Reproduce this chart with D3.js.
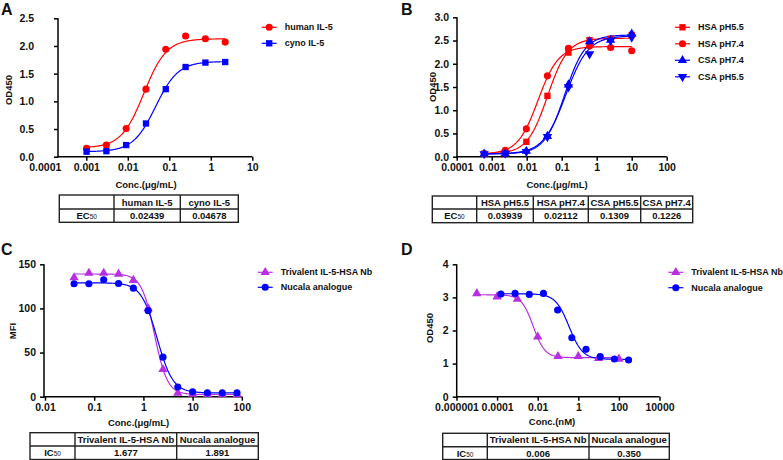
<!DOCTYPE html>
<html><head><meta charset="utf-8">
<script src="https://cdn.jsdelivr.net/npm/d3@7"></script>
<style>
body{margin:0;background:#fff}
svg{display:block}
text{font-family:"Liberation Sans",Arial,sans-serif;font-weight:bold;fill:#111}
</style>
</head><body>
<svg id="c" width="783" height="460"></svg>
<script>
// ---------------- DATA ----------------
// Panel A
const concA = [0.001016, 0.003048, 0.009145, 0.02743, 0.0823, 0.2469, 0.7407, 2.222];
const humanIL5 = [0.15, 0.21, 0.51, 1.22, 1.94, 2.18, 2.13, 2.07];
const cynoIL5 = [0.09, 0.10, 0.21, 0.60, 1.22, 1.62, 1.70, 1.71];
const fitHumanIL5 = [0.16, 2.13, 0.02439, 1.6];   // bottom, top, EC50, hill
const fitCynoIL5 = [0.09, 1.72, 0.04678, 1.6];
const xTicksA = [0.0001, 0.001, 0.01, 0.1, 1, 10];
const xTickLabelsA = ["0.0001", "0.001", "0.01", "0.1", "1", "10"];
const yTicksA = [0, 0.5, 1.0, 1.5, 2.0, 2.5];
const yTickLabelsA = ["0.0", "0.5", "1.0", "1.5", "2.0", "2.5"];
const tableHeadA = ["human IL-5", "cyno IL-5"];
const tableValA = ["0.02439", "0.04678"];

// Panel B
const concB = [0.00061, 0.00244, 0.00977, 0.0391, 0.156, 0.625, 2.5, 10];
const hsaPH55 = [0.06, 0.08, 0.32, 1.31, 2.24, 2.51, 2.54, 2.62];
const hsaPH74 = [0.07, 0.14, 0.60, 1.74, 2.33, 2.38, 2.35, 2.28];
const csaPH74 = [0.06, 0.07, 0.12, 0.44, 1.55, 2.48, 2.51, 2.64];
const csaPH55 = [0.06, 0.07, 0.11, 0.43, 1.50, 2.21, 2.50, 2.57];
const fitHsaPH55 = [0.06, 2.55, 0.03939, 1.5];
const fitHsaPH74 = [0.06, 2.37, 0.02112, 1.5];
const fitCsaPH74 = [0.06, 2.62, 0.1226, 1.5];
const fitCsaPH55 = [0.06, 2.60, 0.1309, 1.35];
const xTicksB = [0.0001, 0.001, 0.01, 0.1, 1, 10, 100];
const xTickLabelsB = ["0.0001", "0.001", "0.01", "0.1", "1", "10", "100"];
const yTicksB = [0, 0.5, 1.0, 1.5, 2.0, 2.5, 3.0];
const yTickLabelsB = ["0.0", "0.5", "1.0", "1.5", "2.0", "2.5", "3.0"];
const tableHeadB = ["HSA pH5.5", "HSA pH7.4", "CSA pH5.5", "CSA pH7.4"];
const tableValB = ["0.03939", "0.02112", "0.1309", "0.1226"];

// Panel C
const concC = [0.039, 0.078, 0.156, 0.3125, 0.625, 1.25, 2.5, 5, 10, 20, 40, 80];
const trivalentC = [135, 140, 140, 139, 132, 100, 31, 4, 3, 2.7, 2.5, 2.5];
const nucalaC = [128, 128, 132.5, 128.3, 123, 97.5, 44.8, 11, 5.6, 4.5, 4.3, 4.3];
const fitTrivalentC = [2.5, 139, 1.677, -3.3];
const fitNucalaC = [4.3, 129, 1.891, -2.7];
const xTicksC = [0.01, 0.1, 1, 10, 100];
const xTickLabelsC = ["0.01", "0.1", "1", "10", "100"];
const yTicksC = [0, 50, 100, 150];
const yTickLabelsC = ["0", "50", "100", "150"];
const tableHeadCD = ["Trivalent IL-5-HSA Nb", "Nucala analogue"];
const tableValC = ["1.677", "1.891"];

// Panel D
const concDTri = [0.00001, 0.0001, 0.001, 0.01, 0.1, 1, 10, 100];
const trivalentD = [3.12, 3.02, 2.95, 1.81, 1.22, 1.22, 1.16, 1.14];
const concDNuc = [0.000154, 0.000768, 0.00384, 0.0192, 0.096, 0.48, 2.4, 12, 60, 300];
const nucalaD = [3.10, 3.12, 3.09, 3.12, 2.62, 1.78, 1.43, 1.21, 1.14, 1.11];
const fitTrivalentD = [1.18, 3.08, 0.006, -1.5];
const fitNucalaD = [1.13, 3.11, 0.350, -1.3];
const xTicksD = [0.000001, 0.0001, 0.01, 1, 100, 10000];
const xTickLabelsD = ["0.000001", "0.0001", "0.01", "1", "100", "10000"];
const yTicksD = [0, 1, 2, 3, 4];
const yTickLabelsD = ["0", "1", "2", "3", "4"];
const tableValD = ["0.006", "0.350"];

// ---------------- DRAWING ----------------
const svg = d3.select("#c");
const RED = "#ff0000", BLUE = "#0000ff", PURPLE = "#b82ee2";

function fourPL(p, x) {
  const [bottom, top, mid, h] = p;
  return bottom + (top - bottom) / (1 + Math.pow(mid / x, h));
}

function symbolPath(type) {
  if (type === "circle") return d3.symbol(d3.symbolCircle, 40)();
  if (type === "square") return d3.symbol(d3.symbolSquare, 40)();
  return d3.symbol(d3.symbolTriangle, 38)();
}
function drawSymbol(g, type, cx, cy, color) {
  g.append("path").attr("d", symbolPath(type))
    .attr("transform", `translate(${cx},${cy})${type === "down" ? " rotate(180)" : ""}`)
    .attr("fill", color);
}

function panel(o) {
  const g = svg.append("g");
  const x = d3.scaleLog().domain(o.xDomain).range(o.xRange);
  const y = d3.scaleLinear().domain(o.yDomain).range(o.yRange);
  const y0 = o.yRange[0];

  g.append("line").attr("x1", o.axisX).attr("x2", o.axisX)
    .attr("y1", o.yRange[1]).attr("y2", y0 + 0.75)
    .attr("stroke", "#000").attr("stroke-width", 1.5);
  g.append("line").attr("x1", o.axisX - 0.75).attr("x2", o.xRange[1])
    .attr("y1", y0).attr("y2", y0).attr("stroke", "#000").attr("stroke-width", 1.5);

  const xa = d3.axisBottom(x).tickValues(o.xTicks)
    .tickFormat((d, i) => o.xTickLabels[i]).tickSize(4).tickPadding(3).tickSizeOuter(0);
  const xg = g.append("g").attr("transform", `translate(0,${y0})`).call(xa);
  xg.select(".domain").remove();
  xg.selectAll(".tick line").attr("stroke", "#000").attr("stroke-width", 1.5)
    .attr("display", d => x(d) < o.axisX - 1 ? "none" : null);
  xg.selectAll(".tick text").attr("font-size", o.tickFont).attr("fill", "#111")
    .attr("font-family", "Liberation Sans, Arial, sans-serif").attr("font-weight", "bold");

  const ya = d3.axisLeft(y).tickValues(o.yTicks)
    .tickFormat((d, i) => o.yTickLabels[i]).tickSize(4).tickPadding(o.yPad).tickSizeOuter(0);
  const yg = g.append("g").attr("transform", `translate(${o.axisX},0)`).call(ya);
  yg.select(".domain").remove();
  yg.selectAll(".tick line").attr("stroke", "#000").attr("stroke-width", 1.5);
  yg.selectAll(".tick text").attr("font-size", o.tickFont).attr("fill", "#111")
    .attr("font-family", "Liberation Sans, Arial, sans-serif").attr("font-weight", "bold");

  g.append("text").attr("x", o.xTitlePos[0]).attr("y", o.xTitlePos[1])
    .attr("text-anchor", "middle").attr("font-size", 9.5).text(o.xTitle);
  g.append("text").attr("transform", `translate(${o.yTitlePos[0]},${o.yTitlePos[1]}) rotate(-90)`)
    .attr("text-anchor", "middle").attr("dominant-baseline", "central")
    .attr("font-size", 9.5).text(o.yTitle);
  g.append("text").attr("x", o.letterPos[0]).attr("y", o.letterPos[1])
    .attr("font-size", 16).attr("fill", "#000").text(o.letter);

  const line = d3.line().x(d => x(d[0])).y(d => y(d[1]));
  o.series.forEach(s => {
    const lo = Math.log10(d3.min(s.x)), hi = Math.log10(d3.max(s.x));
    const pts = d3.range(0, 201).map(i => {
      const c = Math.pow(10, lo + (hi - lo) * i / 200);
      return [c, fourPL(s.fit, c)];
    });
    g.append("path").attr("d", line(pts)).attr("fill", "none")
      .attr("stroke", s.color).attr("stroke-width", 1.2);
  });
  o.series.forEach(s => {
    s.x.forEach((c, i) => drawSymbol(g, s.symbol, x(c), y(s.y[i]), s.color));
  });

  o.series.forEach((s, i) => {
    const ly = o.legend[1] + i * o.legend[2];
    const lx = o.legend[0];
    g.append("line").attr("x1", lx).attr("x2", lx + 15).attr("y1", ly).attr("y2", ly)
      .attr("stroke", s.color).attr("stroke-width", 1.2);
    drawSymbol(g, s.symbol, lx + 7.5, ly, s.color);
    g.append("text").attr("x", lx + 23).attr("y", ly).attr("dominant-baseline", "central")
      .attr("font-size", 9).text(s.name);
  });

  const t = o.table;
  const tg = g.append("g");
  tg.append("rect").attr("x", t.cols[0]).attr("y", t.rows[0])
    .attr("width", t.cols[t.cols.length - 1] - t.cols[0]).attr("height", t.rows[2] - t.rows[0])
    .attr("fill", "none").attr("stroke", "#222").attr("stroke-width", 1.4);
  tg.append("line").attr("x1", t.cols[0]).attr("x2", t.cols[t.cols.length - 1])
    .attr("y1", t.rows[1]).attr("y2", t.rows[1]).attr("stroke", "#222").attr("stroke-width", 1.4);
  t.cols.slice(1, -1).forEach(cx => tg.append("line").attr("x1", cx).attr("x2", cx)
    .attr("y1", t.rows[0]).attr("y2", t.rows[2]).attr("stroke", "#222").attr("stroke-width", 1.4));
  t.head.forEach((h, i) => {
    tg.append("text").attr("x", (t.cols[i + 1] + t.cols[i + 2]) / 2).attr("y", t.rows[1] - 3.5)
      .attr("text-anchor", "middle").attr("font-size", 9.5).text(h);
  });
  t.vals.forEach((v, i) => {
    tg.append("text").attr("x", (t.cols[i + 1] + t.cols[i + 2]) / 2).attr("y", t.rows[1] + 10)
      .attr("text-anchor", "middle").attr("font-size", 9.5).text(v);
  });
  const lab = tg.append("text").attr("x", (t.cols[0] + t.cols[1]) / 2).attr("y", t.rows[1] + 10)
    .attr("text-anchor", "middle").attr("font-size", 9.5);
  lab.append("tspan").text(t.label[0]);
  lab.append("tspan").attr("font-size", 6.5).attr("font-weight", "normal").text(t.label[1]);
}

panel({
  letter: "A", letterPos: [1, 15],
  xDomain: [0.0001, 10], xRange: [44.8, 252.3], axisX: 58,
  yDomain: [0, 2.5], yRange: [156.7, 18.3], yPad: 20,
  xTicks: xTicksA, xTickLabels: xTickLabelsA, yTicks: yTicksA, yTickLabels: yTickLabelsA,
  tickFont: 10.5,
  xTitle: "Conc.(\u03bcg/mL)", xTitlePos: [146, 187.5],
  yTitle: "OD450", yTitlePos: [8, 90],
  series: [
    {name: "human IL-5", x: concA, y: humanIL5, fit: fitHumanIL5, color: RED, symbol: "circle"},
    {name: "cyno IL-5", x: concA, y: cynoIL5, fit: fitCynoIL5, color: BLUE, symbol: "square"}
  ],
  legend: [261.7, 27.3, 16],
  table: {cols: [59.3, 114, 180.3, 238.3], rows: [195, 209, 222.3],
          head: tableHeadA, vals: tableValA, label: ["EC", "50"]}
});

panel({
  letter: "B", letterPos: [401, 15],
  xDomain: [0.0001, 100], xRange: [456.7, 666.7], axisX: 457,
  yDomain: [0, 3], yRange: [156.7, 17.3], yPad: 4,
  xTicks: xTicksB, xTickLabels: xTickLabelsB, yTicks: yTicksB, yTickLabels: yTickLabelsB,
  tickFont: 10.5,
  xTitle: "Conc.(\u03bcg/mL)", xTitlePos: [557, 187.5],
  yTitle: "OD450", yTitlePos: [432, 87],
  series: [
    {name: "HSA pH5.5", x: concB, y: hsaPH55, fit: fitHsaPH55, color: RED, symbol: "square"},
    {name: "HSA pH7.4", x: concB, y: hsaPH74, fit: fitHsaPH74, color: RED, symbol: "circle"},
    {name: "CSA pH7.4", x: concB, y: csaPH74, fit: fitCsaPH74, color: BLUE, symbol: "triangle"},
    {name: "CSA pH5.5", x: concB, y: csaPH55, fit: fitCsaPH55, color: BLUE, symbol: "down"}
  ],
  legend: [675, 27.3, 16.5],
  table: {cols: [432.3, 476.7, 533.3, 588.3, 640.7, 692.7], rows: [196, 209, 222.7],
          head: tableHeadB, vals: tableValB, label: ["EC", "50"]}
});

panel({
  letter: "C", letterPos: [1, 255],
  xDomain: [0.01, 100], xRange: [45, 241.8], axisX: 44,
  yDomain: [0, 150], yRange: [396.7, 264.3], yPad: 4,
  xTicks: xTicksC, xTickLabels: xTickLabelsC, yTicks: yTicksC, yTickLabels: yTickLabelsC,
  tickFont: 10.5,
  xTitle: "Conc.(\u03bcg/mL)", xTitlePos: [138.5, 425.7],
  yTitle: "MFI", yTitlePos: [12, 331],
  series: [
    {name: "Trivalent IL-5-HSA Nb", x: concC, y: trivalentC, fit: fitTrivalentC, color: PURPLE, symbol: "triangle"},
    {name: "Nucala analogue", x: concC, y: nucalaC, fit: fitNucalaC, color: BLUE, symbol: "circle"}
  ],
  legend: [257.7, 272.3, 15],
  table: {cols: [30, 75, 176.7, 258.3], rows: [432.7, 446, 459.5],
          head: tableHeadCD, vals: tableValC, label: ["IC", "50"]}
});

panel({
  letter: "D", letterPos: [401, 255],
  xDomain: [0.000001, 10000], xRange: [456.5, 659.5], axisX: 456.7,
  yDomain: [0, 4], yRange: [396.7, 264.3], yPad: 4,
  xTicks: xTicksD, xTickLabels: xTickLabelsD, yTicks: yTicksD, yTickLabels: yTickLabelsD,
  tickFont: 10.5,
  xTitle: "Conc.(nM)", xTitlePos: [552, 425],
  yTitle: "OD450", yTitlePos: [429, 328],
  series: [
    {name: "Trivalent IL-5-HSA Nb", x: concDTri, y: trivalentD, fit: fitTrivalentD, color: PURPLE, symbol: "triangle"},
    {name: "Nucala analogue", x: concDNuc, y: nucalaD, fit: fitNucalaD, color: BLUE, symbol: "circle"}
  ],
  legend: [668.3, 272.3, 15.4],
  table: {cols: [442.7, 487.3, 589, 669.3], rows: [433.3, 446.7, 459.5],
          head: tableHeadCD, vals: tableValD, label: ["IC", "50"]}
});
</script>
</body></html>
